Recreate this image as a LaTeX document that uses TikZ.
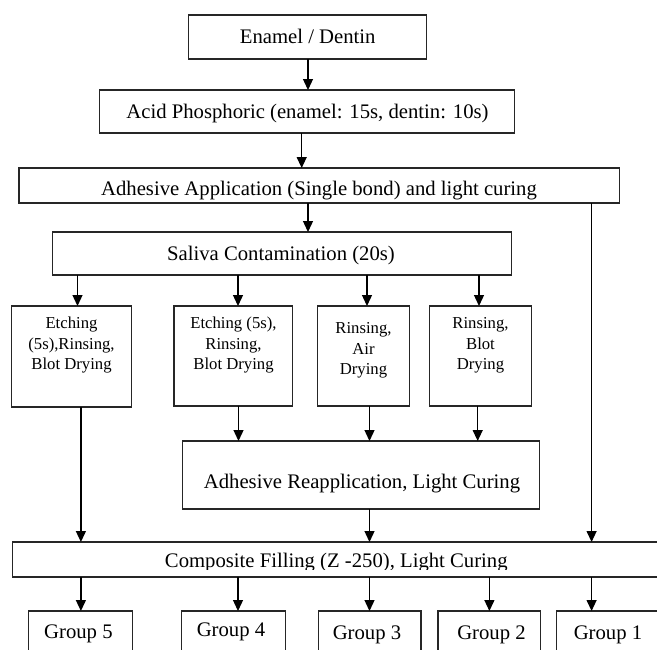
\documentclass[tikz,border=0pt]{standalone}
\usepackage{fontspec}
\setmainfont{Liberation Serif}
\usetikzlibrary{arrows.meta}
\tikzset{
  box/.style={draw=black!85, line width=1.3pt, inner sep=0pt, outer sep=0pt},
  arr/.style={draw=black, line width=1.3pt, -{Triangle[width=10pt,length=11pt]}},
  ln/.style={draw=black, line width=1.3pt},
  big/.style={font=\fontsize{20.7}{24}\selectfont, inner sep=0pt, anchor=base},
  small/.style={font=\fontsize{16.7}{20.5}\selectfont, inner sep=0pt, anchor=north, align=center}
}
\begin{document}
\begin{tikzpicture}[x=1pt,y=-1pt]
\useasboundingbox (0,0) rectangle (657,649);
\clip (0,0) rectangle (657,649);
% column coordinates
\coordinate (xa) at (308,0);
\coordinate (xb) at (301.7,0);
\coordinate (xR) at (591.6,0);
\coordinate (s1) at (77.5,0);
\coordinate (s2) at (238,0);
\coordinate (s3) at (367,0);
\coordinate (s4) at (479,0);
\coordinate (d1) at (80.9,0);
\coordinate (d2) at (238.5,0);
\coordinate (d3) at (369.5,0);
\coordinate (d4) at (477.7,0);
\coordinate (g2x) at (489.4,0);
% boxes
\node[box, minimum width=238pt, minimum height=44pt] (en) at (307.5,37) {};
\node[box, minimum width=414.8pt, minimum height=43pt] (ac) at (307.1,111.5) {};
\node[box, minimum width=600.4pt, minimum height=35pt] (ad) at (319.1,185.5) {};
\node[box, minimum width=458.8pt, minimum height=43pt] (sa) at (281.8,253.5) {};
\node[box, minimum width=120.3pt, minimum height=101pt] (e1) at (71.45,356.5) {};
\node[box, minimum width=118.6pt, minimum height=100pt] (e2) at (233.2,356) {};
\node[box, minimum width=92.2pt, minimum height=100pt] (e3) at (363.7,356) {};
\node[box, minimum width=101.8pt, minimum height=100pt] (e4) at (480.4,356) {};
\node[box, minimum width=357.4pt, minimum height=68pt] (re) at (361,475) {};
\begin{scope}
\clip (0,540) rectangle (657,569.5);
\node[big] (cot) at (336.3,567.5) {Composite Filling (Z -250), Light Curing};
\end{scope}
\node[box, minimum width=667.4pt, minimum height=35pt] (co) at (346.3,559.5) {};
\node[box, minimum width=103.9pt, minimum height=59pt] (g5) at (80.45,640.5) {};
\node[box, minimum width=104.4pt, minimum height=59pt] (g4) at (233.6,640.5) {};
\node[box, minimum width=102.6pt, minimum height=59pt] (g3) at (369.7,640.5) {};
\node[box, minimum width=102.6pt, minimum height=59pt] (g2) at (489.2,640.5) {};
\node[box, minimum width=103.6pt, minimum height=59pt] (g1) at (608.2,640.5) {};
% texts
\node[big] (ent) at (307.7,43.5) {Enamel / Dentin};
\node[big] (act) at (307.5,118.5) {Acid Phosphoric (enamel: 15s, dentin: 10s)};
\node[big] (adt) at (319,195) {Adhesive Application (Single bond) and light curing};
\node[big] (sat) at (281,260) {Saliva Contamination (20s)};
\node[small] (e1t) at (71.5,317) {Etching\\(5s),Rinsing,\\Blot Drying};
\node[small] (e2t) at (233.5,317) {Etching (5s),\\Rinsing,\\Blot Drying};
\node[small] (e3t) at (363.5,322.4) {Rinsing,\\Air\\Drying};
\node[small] (e4t) at (480.5,317.4) {Rinsing,\\Blot\\Drying};
\node[big] (ret) at (362,488) {Adhesive Reapplication, Light Curing};
\node[big] (g5t) at (78.4,638) {Group 5};
\node[big] (g4t) at (231,636) {Group 4};
\node[big] (g3t) at (367,639) {Group 3};
\node[big] (g2t) at (491.5,639) {Group 2};
\node[big] (g1t) at (608,639) {Group 1};
% connectors
\draw[arr] (en.south -| xa) -- (ac.north -| xa);
\draw[arr] (ac.south -| xb) -- (ad.north -| xb);
\draw[arr] (ad.south -| xa) -- (sa.north -| xa);
\draw[arr] (ad.south -| xR) -- (co.north -| xR);
\draw[arr] (sa.south -| s1) -- (e1.north -| s1);
\draw[arr] (sa.south -| s2) -- (e2.north -| s2);
\draw[arr] (sa.south -| s3) -- (e3.north -| s3);
\draw[arr] (sa.south -| s4) -- (e4.north -| s4);
\draw[arr] (e1.south -| d1) -- (co.north -| d1);
\draw[arr] (e2.south -| d2) -- (re.north -| d2);
\draw[arr] (e3.south -| d3) -- (re.north -| d3);
\draw[arr] (e4.south -| d4) -- (re.north -| d4);
\draw[arr] (re.south -| d3) -- (co.north -| d3);
\draw[arr] (co.south -| d1) -- (g5.north -| d1);
\draw[arr] (co.south -| s2) -- (g4.north -| s2);
\draw[arr] (co.south -| d3) -- (g3.north -| d3);
\draw[arr] (co.south -| g2x) -- (g2.north -| g2x);
\draw[arr] (co.south -| xR) -- (g1.north -| xR);
\end{tikzpicture}
\end{document}
